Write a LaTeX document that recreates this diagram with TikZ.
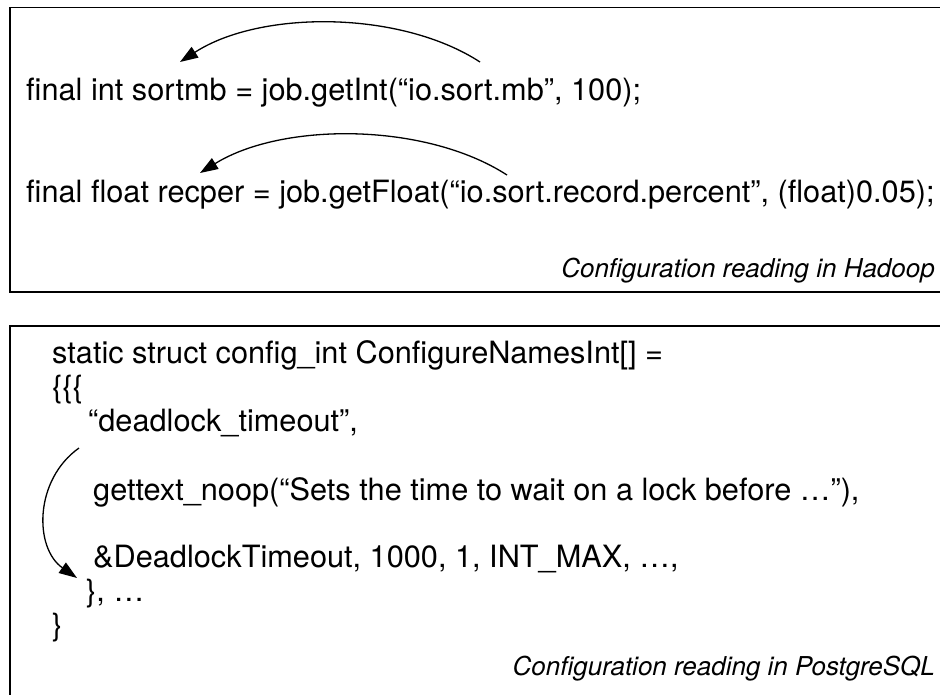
\documentclass[tikz,border=0pt]{standalone}
\usepackage{fontspec}
\setmainfont{TeX Gyre Heros}
\usetikzlibrary{arrows.meta}
\begin{document}
\begin{tikzpicture}[x=1pt,y=-1pt,
  frame/.style={line width=1.6pt},
  code/.style={anchor=base west, inner sep=0pt, font=\fontsize{30.7}{36}\selectfont},
  caption/.style={anchor=base east, inner sep=0pt, font=\fontsize{26}{30}\selectfont\itshape},
  link/.style={line width=1.3pt, -{Triangle[length=18pt,width=12.5pt]}}]
\useasboundingbox (0,0) rectangle (940,694);
\clip (0,0) rectangle (940,694);
\fill[white] (0,0) rectangle (940,694);

% ---- Hadoop panel ----
\draw[frame] (960,7.5) -- (10,7.5) -- (10,292) -- (960,292);
\node[code] (sortmb) at (26,100) {final int sortmb = job.getInt(“io.sort.mb”, 100);};
\node[code] (recper) at (26,202) {final float recper = job.getFloat(“io.sort.record.percent”, (float)0.05);};
\node[caption] (caphadoop) at (935,277) {Configuration reading in Hadoop};

\coordinate (keyA) at (480,62);
\coordinate (varA) at (180,62);
\coordinate (keyB) at (507,175);
\coordinate (varB) at (200,173);
\draw[link] (keyA) .. controls (400,10) and (260,10) .. (varA);
\draw[link] (keyB) .. controls (425,122) and (282,122) .. (varB);

% ---- PostgreSQL panel ----
\draw[frame] (960,326) -- (10,326) -- (10,720);
\node[code] (decl)  at (52,363) {static struct config\_int ConfigureNamesInt[] =};
\node[code] (open)  at (52,397) {\{\{\{};
\node[code] (name)  at (88,431) {“deadlock\_timeout”,};
\node[code] (descr) at (93,500) {gettext\_noop(“Sets the time to wait on a lock before …”),};
\node[code] (var)   at (93,567) {\&DeadlockTimeout, 1000, 1, INT\_MAX, …,};
\node[code] (close) at (86,601) {\}, …};
\node[code] (end)   at (52,635) {\}};
\node[caption] (cappg) at (935,675) {Configuration reading in PostgreSQL};

\coordinate (keyC) at (79,448);
\coordinate (varC) at (77,578);
\draw[link] (keyC) .. controls (34,480) and (34,548) .. (varC);
\end{tikzpicture}
\end{document}
